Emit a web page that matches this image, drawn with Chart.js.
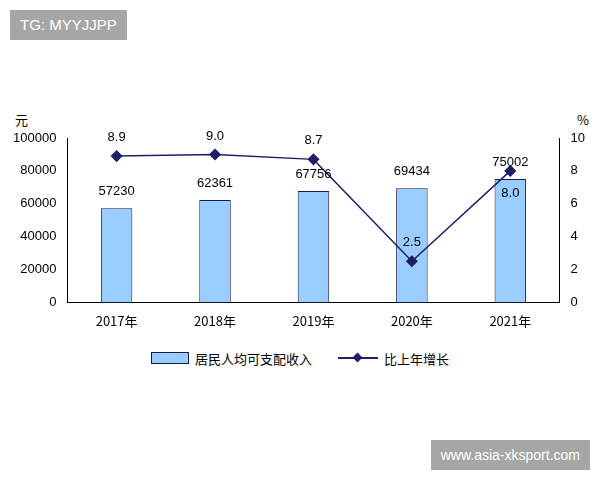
<!DOCTYPE html>
<html><head><meta charset="utf-8">
<script src="https://cdn.jsdelivr.net/npm/chart.js"></script>
<style>
body{margin:0;background:#fff;width:600px;height:480px;position:relative;overflow:hidden;font-family:"Liberation Sans",sans-serif}
#wrap{position:absolute;left:0;top:100px;width:600px;height:232px}
.wm{position:absolute;background:#a6a6a6;color:#fff;font-size:15px;line-height:30px;padding:0 10px}
.ax{position:absolute;font-size:13px;color:#000;font-family:"Noto Sans CJK SC"}
#leg{position:absolute;left:0;width:600px;top:347px;text-align:center;font-size:13px;font-family:"Noto Sans CJK SC";color:#000}
#leg span{display:inline-block;vertical-align:middle}
</style></head><body>
<div class="wm" style="left:10px;top:10px;">TG: MYYJJPP</div>
<div class="wm" style="right:10px;top:440px;font-size:14px;">www.asia-xksport.com</div>
<div class="ax" style="left:15px;top:110px;">元</div>
<div class="ax" style="left:577px;top:110px;">%</div>
<div id="wrap"><canvas id="c"></canvas></div>
<div id="leg"><span style="width:36px;height:10px;background:#99ccff;border:1px solid #1a1a4d;margin-right:6px"></span><span id="l1"></span><span style="width:40px;height:12px;position:relative;margin:0 6px 0 26px"><span style="position:absolute;left:0;top:5px;width:40px;height:2px;background:#1f1f66"></span><span style="position:absolute;left:16px;top:2px;width:7px;height:7px;background:#1f1f66;transform:rotate(45deg)"></span></span><span id="l2"></span></div>
<script>
const categories=["2017年","2018年","2019年","2020年","2021年"];
const income=[57230,62361,67756,69434,75002];
const growth=[8.9,9.0,8.7,2.5,8.0];
const leftTicks=[0,20000,40000,60000,80000,100000];
const rightTicks=[0,2,4,6,8,10];
const seriesNames=['居民人均可支配收入','比上年增长'];
document.getElementById('l1').textContent=seriesNames[0];
document.getElementById('l2').textContent=seriesNames[1];
const labelPlugin={id:'lbl',afterDatasetsDraw(ch){
 const ctx=ch.ctx;ctx.save();ctx.fillStyle='#000';ctx.font='13px "Liberation Sans"';ctx.textAlign='center';ctx.textBaseline='bottom';
 ch.getDatasetMeta(0).data.forEach((b,i)=>ctx.fillText(String(income[i]),b.x,b.y-10));
 ch.getDatasetMeta(1).data.forEach((p,i)=>{
  if(i===4){ctx.textBaseline='top';ctx.fillText(growth[i].toFixed(1),p.x,p.y+16);ctx.textBaseline='bottom';}
  else ctx.fillText(growth[i].toFixed(1),p.x,p.y-12);});
 ctx.restore();}};
new Chart(document.getElementById('c'),{
 data:{labels:categories,datasets:[
  {type:'bar',label:seriesNames[0],data:income,yAxisID:'y',backgroundColor:'#99ccff',borderColor:'#1a1a4d',borderWidth:1,barPercentage:0.32,categoryPercentage:1,order:2},
  {type:'line',label:seriesNames[1],data:growth,yAxisID:'y1',borderColor:'#1f1f66',backgroundColor:'#1f1f66',borderWidth:1.5,pointStyle:'rectRot',pointRadius:5,tension:0,order:1}]},
 options:{responsive:true,maintainAspectRatio:false,animation:false,
  layout:{padding:{left:10,right:12,top:38,bottom:0}},
  plugins:{legend:{display:false},tooltip:{enabled:false}},
  scales:{
   x:{grid:{display:false},border:{color:'#000'},ticks:{color:'#000',font:{size:13,family:'"Noto Sans CJK SC"'}}},
   y:{position:'left',min:0,max:100000,afterBuildTicks(s){s.ticks=leftTicks.map(v=>({value:v}));},grid:{display:false},border:{color:'#000'},ticks:{color:'#000',font:{size:13},callback:v=>String(v)}},
   y1:{position:'right',min:0,max:10,afterBuildTicks(s){s.ticks=rightTicks.map(v=>({value:v}));},grid:{display:false},border:{color:'#000'},ticks:{color:'#000',font:{size:13},callback:v=>String(v)}}
  }},
 plugins:[labelPlugin]});
</script></body></html>
